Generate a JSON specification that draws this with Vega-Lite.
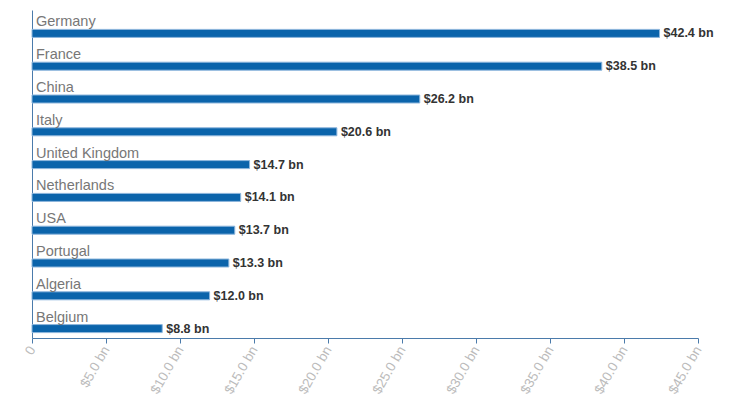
{
  "$schema": "https://vega.github.io/schema/vega-lite/v6.json",
  "autosize": {"type": "none"},
  "padding": {"left": 32, "top": 10, "right": 31, "bottom": 62},
  "width": 666,
  "height": 328,
  "background": "white",
  "data": {
    "values": [
      {"country": "Germany", "value": 42.4},
      {"country": "France", "value": 38.5},
      {"country": "China", "value": 26.2},
      {"country": "Italy", "value": 20.6},
      {"country": "United Kingdom", "value": 14.7},
      {"country": "Netherlands", "value": 14.1},
      {"country": "USA", "value": 13.7},
      {"country": "Portugal", "value": 13.3},
      {"country": "Algeria", "value": 12.0},
      {"country": "Belgium", "value": 8.8}
    ]
  },
  "config": {
    "view": {"stroke": null},
    "font": "Liberation Sans"
  },
  "encoding": {
    "y": {
      "field": "country",
      "type": "nominal",
      "sort": null,
      "scale": {"paddingInner": 0, "paddingOuter": 0},
      "axis": {
        "title": null,
        "labels": false,
        "ticks": false,
        "grid": false,
        "domainColor": "#4b7bab",
        "domainWidth": 1
      }
    }
  },
  "layer": [
    {
      "mark": {"type": "bar", "height": 8, "yOffset": 7, "color": "#0b64ab", "stroke": "#8db6dc", "strokeWidth": 1},
      "encoding": {
        "x": {
          "field": "value",
          "type": "quantitative",
          "scale": {"domain": [0, 45], "nice": false},
          "axis": {
            "title": null,
            "values": [0, 5, 10, 15, 20, 25, 30, 35, 40, 45],
            "labelExpr": "datum.value == 0 ? '0' : '$' + format(datum.value, '.1f') + ' bn'",
            "labelAngle": -60,
            "labelAlign": "right",
            "labelBaseline": "middle",
            "labelColor": "#bbbbbb",
            "labelFontSize": 13.5,
            "labelPadding": 4,
            "labelOverlap": false,
            "tickColor": "#4b7bab",
            "tickSize": 5,
            "domainColor": "#4b7bab",
            "grid": false
          }
        }
      }
    },
    {
      "mark": {"type": "text", "align": "left", "baseline": "alphabetic", "dx": 4, "fontSize": 14.5, "color": "#777777"},
      "encoding": {
        "x": {"datum": 0, "type": "quantitative"},
        "text": {"field": "country"}
      }
    },
    {
      "transform": [{"calculate": "'$' + format(datum.value, '.1f') + ' bn'", "as": "label"}],
      "mark": {"type": "text", "align": "left", "baseline": "middle", "dx": 4, "yOffset": 7, "fontSize": 12.5, "fontWeight": "bold", "color": "#333333"},
      "encoding": {
        "x": {"field": "value", "type": "quantitative"},
        "text": {"field": "label"}
      }
    }
  ]
}
